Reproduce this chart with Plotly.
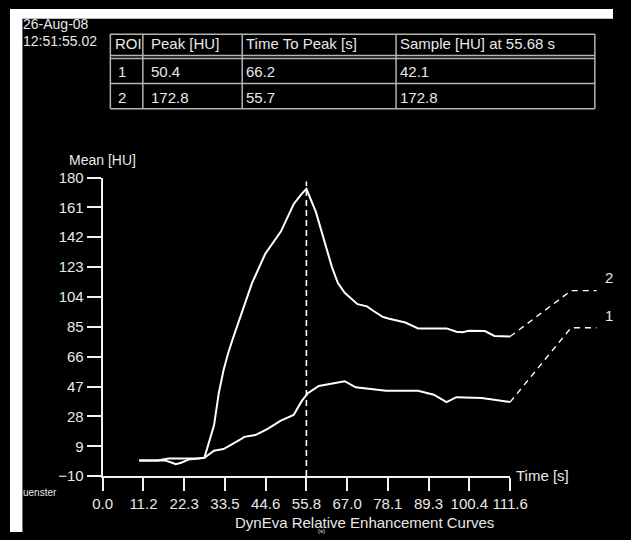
import plotly.graph_objects as go

# ---------------- data ----------------
time_r2 = [10.0, 15.0, 18.0, 22.0, 26.0, 27.85, 30.5, 31.8, 33.1, 34.4, 35.7, 40.9, 44.5, 48.8, 50.6,
           52.3, 54.4, 55.8, 58.4, 62.8, 64.4, 66.3, 69.8, 72.4, 74.1, 76.8, 78.5, 82.9, 86.4, 94.2,
           96.9, 98.6, 100.3, 104.7, 107.3, 111.7]
mean_r2 = [0.0, 0.0, 1.2, 1.2, 1.2, 1.7, 22.3, 42.8, 57.4, 68.5, 77.8, 112.8, 131.3, 145.6, 155.0,
           163.0, 169.3, 172.8, 158.1, 123.0, 113.0, 106.6, 99.4, 98.0, 95.2, 91.2, 90.1, 87.7, 84.0, 84.0,
           81.9, 81.5, 82.5, 82.3, 79.2, 78.8]

time_r1 = [10.0, 15.0, 17.0, 19.0, 20.0, 21.5, 23.5, 27.85, 30.5, 33.1, 35.7, 37.5, 38.8, 41.8,
           43.6, 45.3, 48.8, 50.6, 52.3, 54.5, 56.2, 59.2, 62.8, 66.3, 69.3, 77.6, 86.4, 90.7,
           94.2, 96.9, 103.8, 111.7]
mean_r1 = [0.0, 0.0, 0.0, -1.5, -2.4, -1.5, 0.5, 1.7, 6.2, 7.2, 10.4, 13.0, 15.0, 16.1,
           18.1, 20.2, 25.3, 27.4, 28.9, 37.7, 42.8, 47.4, 49.0, 50.4, 46.5, 44.3, 44.3, 41.8,
           37.1, 40.2, 39.7, 37.1]

# connectors from curve ends to ROI labels
conn_time = [111.6, 128.3, 135.3]
conn_r2 = [78.8, 108.0, 108.0]
conn_time_r1 = [111.6, 122.2, 128.3, 135.3]
conn_r1 = [37.1, 67.5, 84.4, 84.4]
label_pos = {"2": 116.5, "1": 92.5}

time_to_peak = 55.8
peak_marker_top = 177.5

x_tick_vals = [0, 11.16, 22.32, 33.48, 44.64, 55.8, 66.96, 78.12, 89.28, 100.44, 111.6]
x_tick_text = ["0.0", "11.2", "22.3", "33.5", "44.6", "55.8", "67.0", "78.1", "89.3", "100.4", "111.6"]
y_tick_vals = [-10, 9, 28, 47, 66, 85, 104, 123, 142, 161, 180]

table_header = ["ROI", "Peak [HU]", "Time To Peak [s]", "Sample [HU] at 55.68 s"]
roi = ["1", "2"]
peak = ["50.4", "172.8"]
ttp = ["66.2", "55.7"]
sample = ["42.1", "172.8"]

date_text = "26-Aug-08"
time_text = "12:51:55.02"

# ---------------- layout helpers ----------------
W, H = 631, 540
FONT = "Liberation Sans, Arial, sans-serif"
TXT = "#e8e8e8"
AX = "#f2f2f2"


def px(x):
    return x / W


def py(y):
    return 1 - y / H


x_scale = (523.3 - 97) / 111.6
ydom = [py(482.3), py(174)]

fig = go.Figure()

fig.add_trace(go.Scatter(x=time_r1, y=mean_r1, mode="lines",
                         line=dict(color="white", width=2), hoverinfo="skip"))
fig.add_trace(go.Scatter(x=time_r2, y=mean_r2, mode="lines",
                         line=dict(color="white", width=2), hoverinfo="skip"))
fig.add_trace(go.Scatter(x=[time_to_peak, time_to_peak], y=[-10, peak_marker_top], mode="lines",
                         line=dict(color="white", width=1.6, dash="6px,4px"), hoverinfo="skip"))
fig.add_trace(go.Scatter(x=conn_time, y=conn_r2, mode="lines", xaxis="x2", yaxis="y2",
                         line=dict(color="white", width=1.4, dash="6px,5px"), hoverinfo="skip"))
fig.add_trace(go.Scatter(x=conn_time_r1, y=conn_r1, mode="lines", xaxis="x2", yaxis="y2",
                         line=dict(color="white", width=1.4, dash="6px,5px"), hoverinfo="skip"))

ann = []


def text(x, y, s, size=15, xanchor="left", xref="paper", yref="paper"):
    ann.append(dict(x=x, y=y, xref=xref, yref=yref, text=s, showarrow=False,
                    xanchor=xanchor, yanchor="middle",
                    font=dict(family=FONT, size=size, color=TXT)))


text(px(12), py(16), date_text, size=14)
text(px(12), py(33), time_text, size=14)
text(px(60), py(156), "Mean [HU]", size=14)
text(px(527), py(482), "Time [s]", size=15)
text(px(371), py(530), "DynEva Relative Enhancement Curves", size=15, xanchor="center")
text(px(11), py(499), "uenster", size=10)
text(px(326), py(539), "(s)", size=6, xanchor="center")
for k, v in label_pos.items():
    text(137.0, v, k, size=15, xref="x2", yref="y2")

# table
col_text_x = [108, 145, 245, 406]
row_y = [36, 65, 91]
for cx, s in zip(col_text_x, table_header):
    text(px(cx), py(row_y[0]), s)
rows = list(zip(roi, peak, ttp, sample))
for r, vals in enumerate(rows):
    for c, s in enumerate(vals):
        text(px(col_text_x[c] + (3 if c == 0 else 0)), py(row_y[r + 1]), s)

shapes = [
    # white border strips of the original screenshot
    dict(type="rect", xref="paper", yref="paper", x0=0, x1=1, y0=py(10), y1=1,
         fillcolor="white", line=dict(width=0), layer="below"),
    dict(type="rect", xref="paper", yref="paper", x0=0, x1=px(13), y0=0, y1=1,
         fillcolor="white", line=dict(width=0), layer="below"),
]
tcol = "#b4b4b4"
col_edges = [105, 139, 243, 404, 612]
row_edges = [26, 48, 51, 77, 103]
for yy in row_edges:
    shapes.append(dict(type="line", xref="paper", yref="paper", x0=px(col_edges[0]), x1=px(col_edges[-1]),
                       y0=py(yy), y1=py(yy), line=dict(color=tcol, width=1.5)))
for xx in col_edges:
    shapes.append(dict(type="line", xref="paper", yref="paper", x0=px(xx), x1=px(xx),
                       y0=py(row_edges[0]), y1=py(row_edges[-1]), line=dict(color=tcol, width=1.5)))

fig.update_layout(
    width=W, height=H,
    margin=dict(l=0, r=0, t=0, b=0),
    paper_bgcolor="black",
    plot_bgcolor="rgba(0,0,0,0)",
    showlegend=False,
    xaxis=dict(domain=[px(97), px(523.3)], range=[0, 111.6], tickvals=x_tick_vals, ticktext=x_tick_text,
               showline=True, linecolor=AX, linewidth=2, ticks="outside", ticklen=13, tickwidth=2,
               tickcolor=AX, showgrid=False, zeroline=False, anchor="y",
               tickfont=dict(family=FONT, size=15, color=TXT)),
    yaxis=dict(domain=ydom, range=[-10, 180], tickvals=y_tick_vals,
               showline=True, linecolor=AX, linewidth=2, ticks="outside", ticklen=14, tickwidth=2,
               tickcolor=AX, showgrid=False, zeroline=False, anchor="x",
               tickfont=dict(family=FONT, size=15, color=TXT)),
    xaxis2=dict(domain=[px(97), 1], range=[0, (W - 97) / x_scale], visible=False, anchor="y2"),
    yaxis2=dict(domain=ydom, range=[-10, 180], visible=False, anchor="x2"),
    annotations=ann,
    shapes=shapes,
)

fig.write_html(
    "out.html",
    config={"displayModeBar": False},
    post_script="document.body.style.margin='0';document.body.style.overflow='hidden';"
                "document.documentElement.style.overflow='hidden';",
)
